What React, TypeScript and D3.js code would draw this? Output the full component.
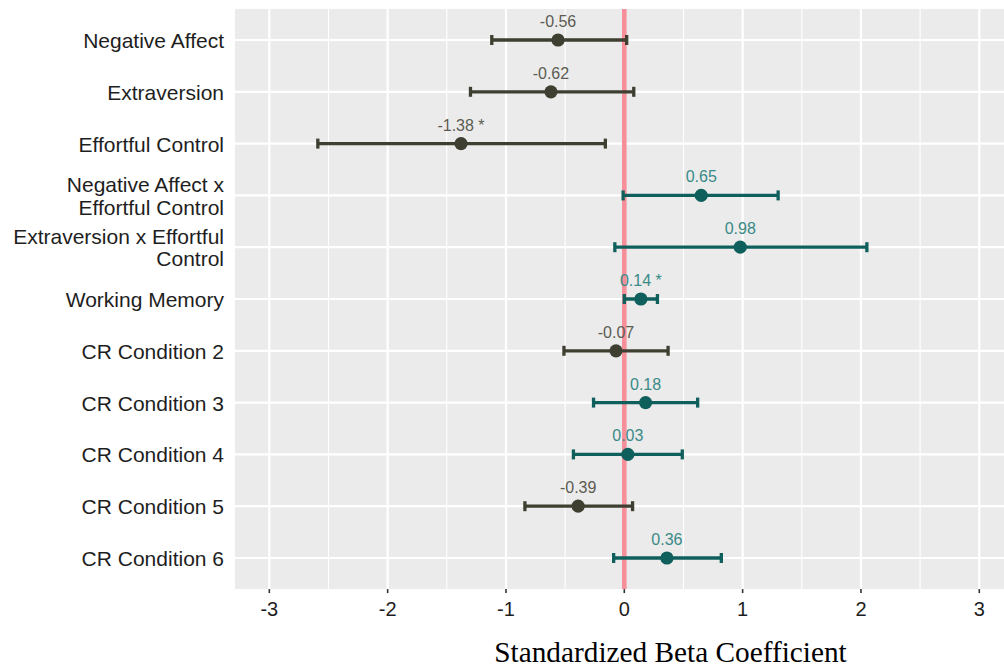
import React, { useEffect, useRef } from "react";
import * as d3 from "d3";

// ─── Data ────────────────────────────────────────────────────────────────────
const PREDICTORS = [
  "Negative Affect",
  "Extraversion",
  "Effortful Control",
  "Negative Affect x\nEffortful Control",
  "Extraversion x Effortful\nControl",
  "Working Memory",
  "CR Condition 2",
  "CR Condition 3",
  "CR Condition 4",
  "CR Condition 5",
  "CR Condition 6",
];
const ESTIMATES = [-0.56, -0.62, -1.38, 0.65, 0.98, 0.14, -0.07, 0.18, 0.03, -0.39, 0.36];
const LOWER = [-1.12, -1.3, -2.59, -0.01, -0.08, 0.0, -0.51, -0.26, -0.43, -0.84, -0.09];
const UPPER = [0.02, 0.08, -0.16, 1.3, 2.05, 0.28, 0.37, 0.62, 0.49, 0.07, 0.82];
const SIGNIFICANT = [false, false, true, false, false, true, false, false, false, false, false];
const X_TICKS = [-3, -2, -1, 0, 1, 2, 3];
const X_MINOR = [-2.5, -1.5, -0.5, 0.5, 1.5, 2.5];
const X_TITLE = "Standardized Beta Coefficient";

// ─── Design tokens ───────────────────────────────────────────────────────────
const W = 1004;
const H = 668;
const PANEL_BG = "#EBEBEB";
const NEG_COLOR = "#3E3F30";
const POS_COLOR = "#0F5F5C";
const NEG_LABEL = "#5C5C52";
const POS_LABEL = "#3A8A87";
const ZERO_LINE = "#F78F9A";
const AXIS_TEXT = "#1e1e1e";
const SANS = "'Liberation Sans', Arial, Helvetica, sans-serif";
const SERIF = "'Liberation Serif', 'Times New Roman', serif";

export default function App() {
  const svgRef = useRef<SVGSVGElement>(null);

  useEffect(() => {
    const node = svgRef.current;
    if (!node) return;
    const svg = d3.select(node);
    svg.selectAll("*").remove();

    // ── Scales ──────────────────────────────────────────────────────────────
    const x = d3.scaleLinear().domain([-3.29, 3.29]).range([235, 1013.6]);
    const y = d3.scalePoint<string>().domain(PREDICTORS).range([40, 558]);
    const step = y.step();
    const top = 40 - 0.6 * step;
    const bottom = 558 + 0.6 * step;
    const [left, right] = x.range();

    // ── Panel & grid ────────────────────────────────────────────────────────
    svg.append("rect")
      .attr("x", left).attr("y", top)
      .attr("width", right - left).attr("height", bottom - top)
      .attr("fill", PANEL_BG);

    svg.append("g").selectAll("line").data(X_MINOR).join("line")
      .attr("x1", (d) => x(d)).attr("x2", (d) => x(d))
      .attr("y1", top).attr("y2", bottom)
      .attr("stroke", "#fff").attr("stroke-width", 1.1);

    svg.append("g").selectAll("line").data(X_TICKS).join("line")
      .attr("x1", (d) => x(d)).attr("x2", (d) => x(d))
      .attr("y1", top).attr("y2", bottom)
      .attr("stroke", "#fff").attr("stroke-width", 2.2);

    svg.append("g").selectAll("line").data(PREDICTORS).join("line")
      .attr("x1", left).attr("x2", right)
      .attr("y1", (d) => y(d)!).attr("y2", (d) => y(d)!)
      .attr("stroke", "#fff").attr("stroke-width", 2.2);

    // ── Zero reference line ────────────────────────────────────────────────
    svg.append("line")
      .attr("x1", x(0)).attr("x2", x(0))
      .attr("y1", top).attr("y2", bottom)
      .attr("stroke", ZERO_LINE).attr("stroke-width", 4.6);

    // ── Error bars, points, labels ──────────────────────────────────────────
    const rows = PREDICTORS.map((p, i) => ({
      p,
      est: ESTIMATES[i],
      lo: LOWER[i],
      hi: UPPER[i],
      sig: SIGNIFICANT[i],
    }));
    const g = svg.append("g");
    rows.forEach((r) => {
      const cy = y(r.p)!;
      const col = r.est < 0 ? NEG_COLOR : POS_COLOR;
      g.append("line")
        .attr("x1", x(r.lo)).attr("x2", x(r.hi))
        .attr("y1", cy).attr("y2", cy)
        .attr("stroke", col).attr("stroke-width", 3.3);
      [r.lo, r.hi].forEach((v) => {
        g.append("line")
          .attr("x1", x(v)).attr("x2", x(v))
          .attr("y1", cy - 5).attr("y2", cy + 5)
          .attr("stroke", col).attr("stroke-width", 3.3);
      });
      g.append("circle")
        .attr("cx", x(r.est)).attr("cy", cy).attr("r", 6.6)
        .attr("fill", col);
      g.append("text")
        .attr("x", x(r.est)).attr("y", cy - 13)
        .attr("text-anchor", "middle")
        .attr("font-family", SANS).attr("font-size", 16)
        .attr("fill", r.est < 0 ? NEG_LABEL : POS_LABEL)
        .text(r.est.toFixed(2) + (r.sig ? " *" : ""));
    });

    // ── Y axis labels ──────────────────────────────────────────────────────
    const yl = svg.append("g")
      .attr("font-family", SANS).attr("font-size", 21).attr("fill", AXIS_TEXT)
      .attr("text-anchor", "end");
    PREDICTORS.forEach((p) => {
      const lines = p.split("\n");
      const cy = y(p)!;
      const lh = 22.5;
      lines.forEach((ln, j) => {
        yl.append("text")
          .attr("x", 224)
          .attr("y", cy + 8 + (j - (lines.length - 1) / 2) * lh)
          .text(ln);
      });
    });

    // ── X axis ──────────────────────────────────────────────────────────────
    const xa = svg.append("g");
    xa.selectAll("line").data(X_TICKS).join("line")
      .attr("x1", (d) => x(d)).attr("x2", (d) => x(d))
      .attr("y1", bottom).attr("y2", bottom + 4)
      .attr("stroke", "#333").attr("stroke-width", 1.6);
    xa.selectAll("text").data(X_TICKS).join("text")
      .attr("x", (d) => x(d)).attr("y", 616)
      .attr("text-anchor", "middle")
      .attr("font-family", SANS).attr("font-size", 20)
      .attr("fill", AXIS_TEXT)
      .text((d) => String(d));

    svg.append("text")
      .attr("x", 670.5).attr("y", 662)
      .attr("text-anchor", "middle")
      .attr("font-family", SERIF).attr("font-size", 29.3)
      .attr("fill", "#000")
      .text(X_TITLE);
  }, []);

  return (
    <svg
      ref={svgRef}
      width={W}
      height={H}
      style={{ position: "absolute", top: 0, left: 0, background: "#fff" }}
    />
  );
}
